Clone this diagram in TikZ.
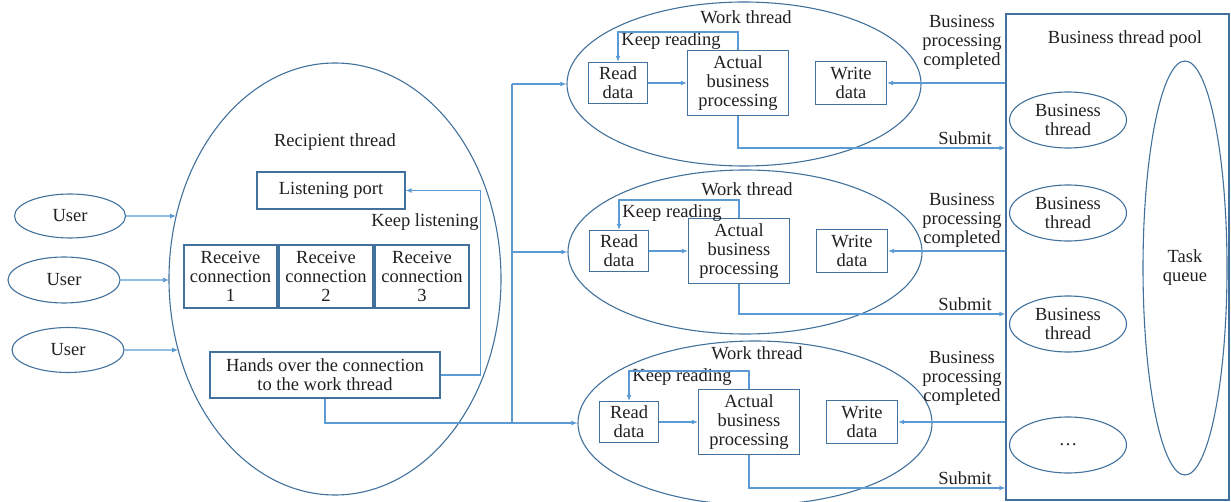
\documentclass[tikz,border=0pt]{standalone}
\usepackage{fontspec}
\setmainfont{Liberation Serif}
\usetikzlibrary{shapes.geometric,arrows.meta,calc,intersections}
\definecolor{edge}{HTML}{41719C}
\definecolor{link}{HTML}{5B9BD5}
\definecolor{ink}{HTML}{231F20}

\begin{document}
\begin{tikzpicture}[x=1pt,y=-1pt,
  every node/.style={font=\fontsize{18.5}{19}\selectfont, text=ink, align=center, inner sep=0pt},
  oval/.style={draw=edge, line width=1.1pt, ellipse},
  box/.style={draw=edge, line width=1.1pt, rectangle},
  conn/.style={draw=link, line width=1.4pt, -{Latex[length=6pt,width=5pt]}},
  wire/.style={draw=link, line width=1.4pt}]
\useasboundingbox (0,0) rectangle (1231,502);

% users
\node[oval, minimum width=111, minimum height=44] (u1) at (70,216) {User};
\node[oval, minimum width=112, minimum height=46] (u2) at (64,280) {User};
\node[oval, minimum width=112, minimum height=45] (u3) at (68,350) {User};

% recipient thread
\node[oval, minimum width=332, minimum height=432] (rt) at (335,279) {};
\path[name path=rtb] (rt.center) ellipse [x radius=166, y radius=216];
\node (rtl) at (335,142) {Recipient thread};
\node[box, minimum width=148, minimum height=37] (lp) at (331,190.5) {Listening port};
\node (kl) at (425,222) {Keep listening};
\node[box, minimum width=93, minimum height=63] (rc1) at (230.5,276.5) {Receive\\connection\\1};
\node[box, minimum width=94, minimum height=63] (rc2) at (326,276.5) {Receive\\connection\\2};
\node[box, minimum width=94, minimum height=63] (rc3) at (422,276.5) {Receive\\connection\\3};
\node[box, minimum width=230, minimum height=46] (ho) at (325,375) {Hands over the connection\\to the work thread};

% users connect to the recipient thread
\path[name path=ha] (u1.east) -- ++(200,0);
\path[name path=hb] (u2.east) -- ++(200,0);
\path[name path=hc] (u3.east) -- ++(200,0);
\path[name intersections={of=ha and rtb, by=ea}];
\path[name intersections={of=hb and rtb, by=eb}];
\path[name intersections={of=hc and rtb, by=ec}];
\draw[conn] (u1.east) -- (ea);
\draw[conn] (u2.east) -- (eb);
\draw[conn] (u3.east) -- (ec);
\draw[conn] (ho.east) -- ++(40,0) |- (lp.east);

% business thread pool
\node[draw=edge, line width=1.1pt, minimum width=223, minimum height=486] (pool) at (1117.5,257) {};
\node (pl) at (1125,39) {Business thread pool};
\node[oval, minimum width=117, minimum height=56] (bt1) at (1068,120) {Business\\thread};
\node[oval, minimum width=117, minimum height=56] (bt2) at (1068,213) {Business\\thread};
\node[oval, minimum width=117, minimum height=56] (bt3) at (1068,324) {Business\\thread};
\node[oval, minimum width=117, minimum height=56] (bt4) at (1068,445) {…};
\node[oval, minimum width=84, minimum height=414] (tq) at (1185,268) {Task\\queue};

% work threads
\foreach \i/\cx/\cy/\wt/\bp/\sb in {1/744/84/17/42/148, 2/745/252/189/220/314, 3/755/423/353/378/488} {
  \node[oval, minimum width=354, minimum height=164] (w\i) at (\cx,\cy) {};
  \node (wt\i) at (\cx+2,\wt) {Work thread};
  \node[box, minimum width=59, minimum height=41] (rd\i) at (\cx-126,\cy-1) {Read\\data};
  \node[box, minimum width=101, minimum height=65] (ab\i) at (\cx-6,\cy-1) {Actual\\business\\processing};
  \node[box, minimum width=71, minimum height=43] (wd\i) at (\cx+107,\cy-1) {Write\\data};
  \node (kr\i) at (\cx-73,\wt+24) {Keep reading};
  \node (bp\i) at (962,\bp) {Business\\processing\\completed};
  \node (sm\i) at (965,\sb-10) {Submit};
  \draw[conn] (rd\i) -- (ab\i);
  \draw[conn] (ab\i.north) -- ++(0,-18) -| (rd\i.north);
  \draw[conn] (ab\i.south) |- (pool.west |- 0,\sb);
  \draw[conn] (wd\i.east -| pool.west) -- (wd\i.east);
}

% hand-over to the work threads
\coordinate (j) at (512,0);
\draw[conn] (ho.south) |- (w3.west);
\draw[wire] (j |- w3.west) -- (j |- w1.west);
\draw[conn] (j |- w1.west) -- (w1.west);
\draw[conn] (j |- w2.west) -- (w2.west);
\end{tikzpicture}
\end{document}
